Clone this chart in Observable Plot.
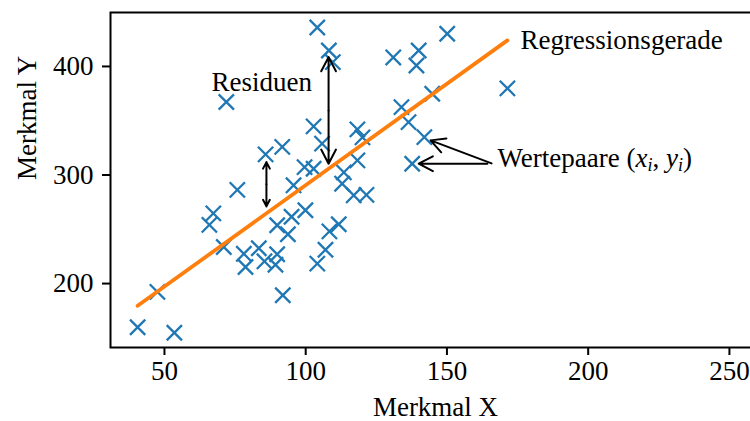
<!DOCTYPE html>
<html>
<head>
<meta charset="utf-8">
<script src="https://cdn.jsdelivr.net/npm/d3@7"></script>
<script src="https://cdn.jsdelivr.net/npm/@observablehq/plot@0.6"></script>
<style>
  html, body { margin: 0; padding: 0; background: white; }
  #wrap { width: 750px; height: 421px; overflow: hidden; }
  #wrap svg { max-width: none !important; width: 770px; height: 421px; }
  svg [aria-label*="axis"] line, svg [aria-label*="axis"] path { stroke-width: 2px; }
</style>
</head>
<body>
<div id="wrap"></div>
<script>
// Data points (Merkmal X, Merkmal Y)
const xValues = [40.5, 53.5, 47.5, 71.9, 75.8, 67.3, 65.9, 71.0, 78.1, 78.7,
                 83.4, 85.4, 89.9, 89.3, 91.9, 85.8, 91.7, 89.9, 93.7, 95.0,
                 95.7, 99.9, 99.6, 102.8, 102.8, 105.8, 104.1, 108.2, 109.6, 104.1,
                 107.0, 108.4, 111.7, 113.5, 112.9, 117.0, 121.5, 118.3, 120.1, 118.3,
                 131.0, 140.0, 139.2, 150.1, 171.4, 144.8, 133.9, 136.4, 142.0, 137.7];
const yValues = [159.8, 154.7, 192.3, 367.3, 286.3, 264.7, 254.1, 233.7, 227.4, 215.3,
                 232.5, 220.5, 227.0, 217.3, 189.2, 319.0, 325.9, 253.7, 245.4, 261.5,
                 290.5, 267.5, 307.3, 305.8, 344.8, 328.9, 435.9, 414.7, 404.0, 218.4,
                 231.1, 248.1, 254.6, 302.4, 292.0, 281.3, 281.7, 342.0, 334.7, 313.5,
                 408.3, 414.7, 400.9, 430.1, 379.8, 374.9, 362.5, 348.7, 334.9, 310.4];

// Regression line end points
const lineX = [40.5, 171.4];
const lineY = [179.5, 424.0];

// Residual arrows (double headed)
const residX  = [108.1, 86.1];
const residY1 = [408.6, 311.9];
const residY2 = [310.4, 271.1];

// Arrows from label to value pairs
const pairTailX = [165.8, 164.3];
const pairTailY = [310.7, 310.4];
const pairTipX  = [144.2, 140.0];
const pairTipY  = [331.9, 310.4];

// Tick values
const xTicks = [50, 100, 150, 200, 250];
const yTicks = [200, 300, 400];

// Text labels
const annoText = ["Regressionsgerade", "Residuen", "Wertepaare (x_i, y_i)"];
const annoX = [176.0, 84.45, 167.9];
const annoY = [423.9, 385.7, 315.2];
const annoAnchor = ["start", "middle", "start"];

const points = xValues.map((x, i) => ({x, y: yValues[i]}));
const line = lineX.map((x, i) => ({x, y: lineY[i]}));
const halfArrows = [];
residX.forEach((x, i) => {
  const mid = (residY1[i] + residY2[i]) / 2;
  halfArrows.push({x1: x, y1: mid, x2: x, y2: residY1[i]});
  halfArrows.push({x1: x, y1: mid, x2: x, y2: residY2[i]});
});
const pairArrows = pairTailX.map((x, i) => ({x1: x, y1: pairTailY[i], x2: pairTipX[i], y2: pairTipY[i]}));
const annos = annoText.map((t, i) => ({t, x: annoX[i], y: annoY[i], a: annoAnchor[i]}));

const FONT = "'Liberation Serif', 'DejaVu Serif', serif";
const FS = 27;

const plot = Plot.plot({
  width: 770,
  height: 421,
  marginLeft: 110,
  marginRight: 10,
  marginTop: 12,
  marginBottom: 74,
  style: {fontFamily: FONT, fontSize: FS + "px", background: "white", color: "black", maxWidth: "none"},
  x: {domain: [30.9, 261], ticks: xTicks, tickSize: 8, tickPadding: 5, label: null},
  y: {domain: [141.1, 449.7], ticks: yTicks, tickSize: 8, tickPadding: 9, label: null},
  marks: [
    Plot.dot(points, {x: "x", y: "y", symbol: "times", r: 7, stroke: "#1f77b4", fill: "none", strokeWidth: 2.3}),
    Plot.line(line, {x: "x", y: "y", stroke: "#ff7f0e", strokeWidth: 3.8}),
    Plot.arrow(halfArrows, {x1: "x1", y1: "y1", x2: "x2", y2: "y2", stroke: "black", strokeWidth: 2, headLength: 12, headAngle: 55}),
    Plot.arrow(pairArrows, {x1: "x1", y1: "y1", x2: "x2", y2: "y2", stroke: "black", strokeWidth: 2, headLength: 12, headAngle: 55}),
    Plot.text(annos.filter(d => d.a === "start"), {x: "x", y: "y", text: "t", textAnchor: "start", lineAnchor: "middle", fontSize: FS, fill: "black"}),
    Plot.text(annos.filter(d => d.a === "middle"), {x: "x", y: "y", text: "t", textAnchor: "middle", lineAnchor: "middle", fontSize: FS, fill: "black"}),
    Plot.text(["Merkmal X"], {frameAnchor: "bottom", dy: 60, lineAnchor: "middle", fontSize: FS, fill: "black"}),
    Plot.text(["Merkmal Y"], {frameAnchor: "left", dx: -83, rotate: -90, lineAnchor: "middle", fontSize: FS, fill: "black"}),
    Plot.frame({stroke: "black", strokeWidth: 2})
  ]
});

document.getElementById("wrap").appendChild(plot);

// Format the math part of the value-pair label: (x_i, y_i)
d3.select(plot).selectAll("text").filter(function() {
  return this.textContent === "Wertepaare (x_i, y_i)";
}).each(function() {
  const t = d3.select(this);
  t.text(null);
  const parts = [
    {s: "Wertepaare (", it: false},
    {s: "x", it: true},
    {s: "i", it: true, sub: true},
    {s: ", ", it: false},
    {s: "y", it: true},
    {s: "i", it: true, sub: true},
    {s: ")", it: false}
  ];
  parts.forEach(p => {
    const ts = t.append("tspan").text(p.s);
    if (p.it) ts.attr("font-style", "italic");
    if (p.sub) ts.attr("font-size", "18px").attr("baseline-shift", "-4px");
  });
});
</script>
</body>
</html>
